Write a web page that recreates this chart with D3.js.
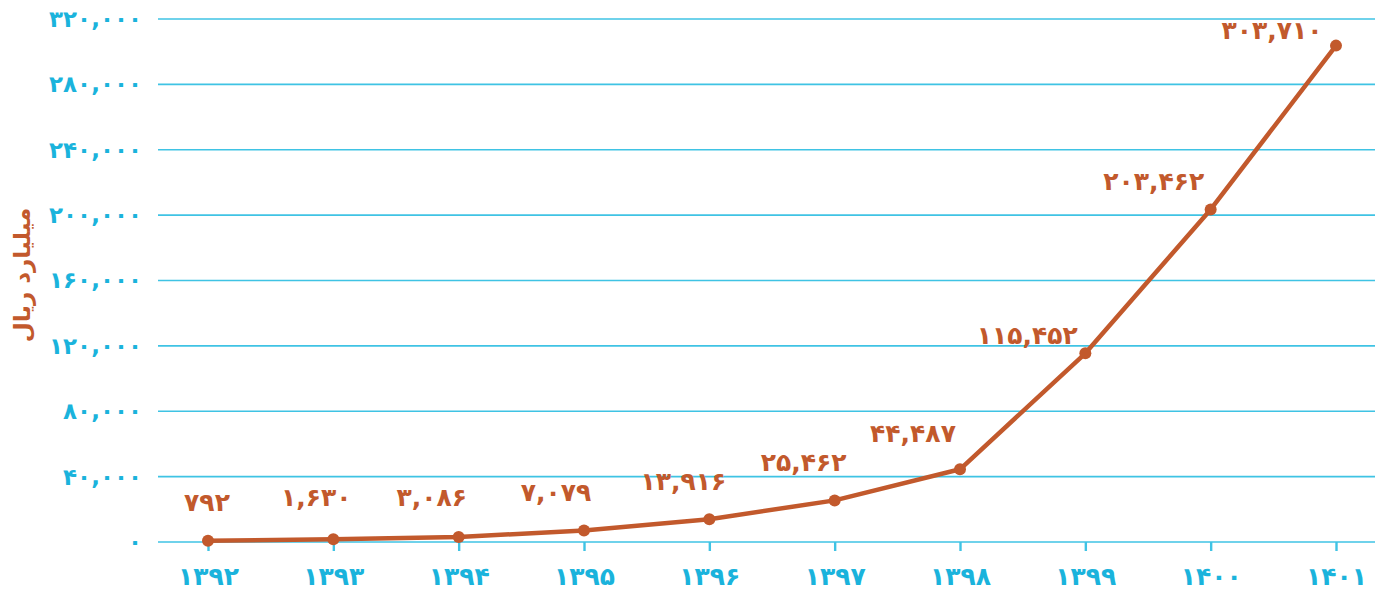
<!DOCTYPE html>
<html>
<head>
<meta charset="utf-8">
<script src="https://cdn.jsdelivr.net/npm/d3@7/dist/d3.min.js"></script>
<style>
  html, body { margin: 0; padding: 0; background: #ffffff; }
  svg { display: block; }
  text { font-family: "DejaVu Sans", sans-serif; font-weight: bold; }
</style>
</head>
<body>
<svg id="chart" width="1380" height="596"></svg>
<script>
// Years (Solar Hijri) and values in billion rials
const years = [1392, 1393, 1394, 1395, 1396, 1397, 1398, 1399, 1400, 1401];
const values = [792, 1630, 3086, 7079, 13916, 25462, 44487, 115452, 203462, 303710];
const yTicks = [0, 40000, 80000, 120000, 160000, 200000, 240000, 280000, 320000];
const yTitle = "میلیارد ریال";

const blue = "#1ab3dc";
const gridBlue = "#3fc3e4";
const rust = "#c2592c";

// Persian digits with a plain comma as group separator
const faDigits = "۰۱۲۳۴۵۶۷۸۹";
const toFa = s => String(s).replace(/[0-9]/g, d => faDigits[+d]);
const fmt = v => toFa(d3.format(",")(v));

const svg = d3.select("#chart");
const plotLeft = 158, plotRight = 1375, plotTop = 19, plotBottom = 542;

const x = d3.scalePoint().domain(years).range([208, 1336]);
const y = d3.scaleLinear().domain([0, 320000]).range([plotBottom, plotTop]);

// Horizontal grid lines
svg.append("g")
  .selectAll("line")
  .data(yTicks)
  .join("line")
  .attr("x1", plotLeft).attr("x2", plotRight)
  .attr("y1", d => y(d)).attr("y2", d => y(d))
  .attr("stroke", gridBlue).attr("stroke-width", 1.6);

// Y axis labels
const yAxis = d3.axisLeft(y).tickValues(yTicks).tickSize(0).tickPadding(0).tickFormat(fmt);
const gy = svg.append("g").attr("transform", "translate(142,0)").call(yAxis);
gy.select(".domain").remove();
gy.selectAll("text")
  .attr("fill", blue)
  .style("font-size", "23px")
  .style("font-family", "DejaVu Sans, sans-serif")
  .style("font-weight", "bold");

// X axis with short ticks under the baseline
const xAxis = d3.axisBottom(x).tickSize(9).tickPadding(16).tickFormat(d => toFa(d));
const gx = svg.append("g").attr("transform", `translate(0,${plotBottom})`).call(xAxis);
gx.select(".domain").remove();
gx.selectAll("line").attr("stroke", gridBlue).attr("stroke-width", 2.4);
gx.selectAll("text")
  .attr("fill", blue)
  .style("font-size", "25px")
  .style("font-family", "DejaVu Sans, sans-serif")
  .style("font-weight", "bold");

// Y title
svg.append("text")
  .attr("transform", "translate(30,275) rotate(-90)")
  .attr("text-anchor", "middle")
  .attr("fill", rust)
  .style("font-size", "23px")
  .text(yTitle);

// Line
const pts = years.map((yr, i) => ({ yr, v: values[i] }));
svg.append("path")
  .datum(pts)
  .attr("fill", "none")
  .attr("stroke", rust)
  .attr("stroke-width", 4.5)
  .attr("stroke-linejoin", "round")
  .attr("d", d3.line().x(d => x(d.yr)).y(d => y(d.v)));

svg.append("g")
  .selectAll("circle")
  .data(pts)
  .join("circle")
  .attr("cx", d => x(d.yr))
  .attr("cy", d => y(d.v))
  .attr("r", 6)
  .attr("fill", rust);

// Value labels: nudges (dx, dy) of each label centre relative to its point
const labelNudge = [[-1, -30], [-17, -33], [-27, -31], [-28, -29], [-26, -29],
                    [-31, -29], [-47, -27], [-58, -9], [-57, -19], [-64, -7]];
svg.append("g")
  .selectAll("text")
  .data(pts)
  .join("text")
  .attr("x", (d, i) => x(d.yr) + labelNudge[i][0])
  .attr("y", (d, i) => y(d.v) + labelNudge[i][1])
  .attr("text-anchor", "middle")
  .attr("fill", rust)
  .style("font-size", "25px")
  .text(d => fmt(d.v));
</script>
</body>
</html>
